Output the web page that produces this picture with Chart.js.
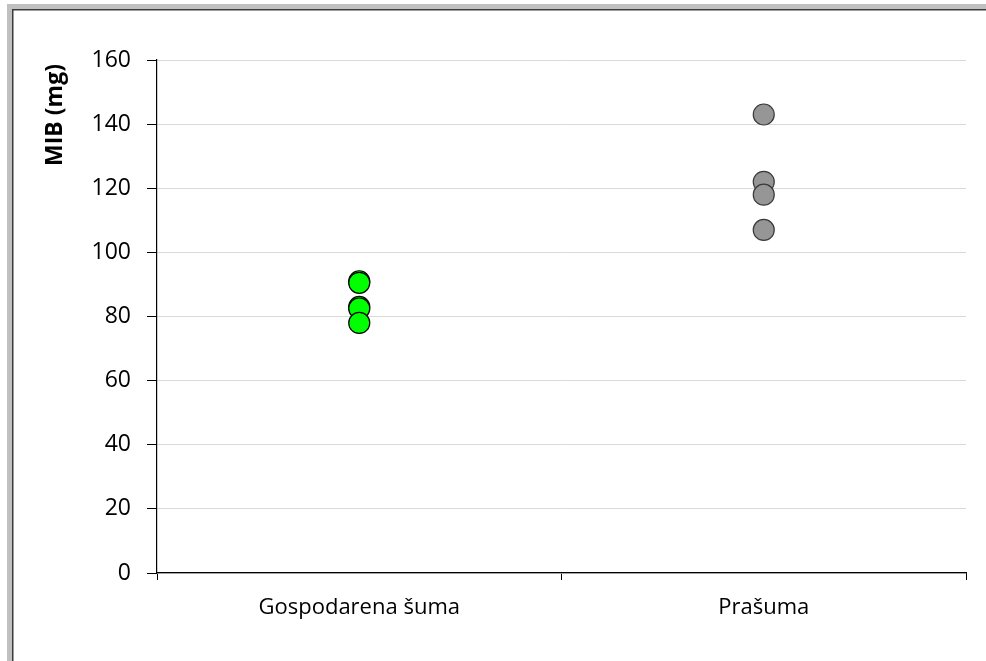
<!DOCTYPE html>
<html>
<head>
<meta charset="utf-8">
<script src="https://cdn.jsdelivr.net/npm/chart.js@4"></script>
<style>
  html, body { margin: 0; padding: 0; background: #fff; }
  #wrap { position: relative; width: 986px; height: 661px; }
</style>
</head>
<body>
<div id="wrap"><canvas id="chart" width="986" height="661"></canvas></div>
<script>
// categories and values
const categories = ["Gospodarena šuma", "Prašuma"];
const managedValues = [91, 90.5, 83, 82.5, 78];
const virginValues = [143, 122, 118, 107];
const yTicks = [0, 20, 40, 60, 80, 100, 120, 140, 160];
const yTitle = "MIB (mg)";

const FONT = "'Open Sans', Lato, sans-serif";

// window frame like the Excel screenshot
const framePlugin = {
    id: "frame",
    beforeDraw(chart) {
        const ctx = chart.ctx;
        ctx.save();
        ctx.fillStyle = "#c0c0c0";
        ctx.fillRect(7, 4, 986 - 7, 5);
        ctx.fillRect(7, 4, 5, 661 - 4);
        ctx.fillStyle = "#3c3c3c";
        ctx.fillRect(12, 9, 986 - 12, 1.5);
        ctx.fillRect(12, 9, 1.5, 661 - 9);
        ctx.restore();
    }
};

// y title sits near the top, as Excel placed it
const titlePlugin = {
    id: "ytitle",
    afterDraw(chart) {
        const ctx = chart.ctx;
        ctx.save();
        ctx.translate(55, 115);
        ctx.rotate(-Math.PI / 2);
        ctx.font = "bold 23px " + FONT;
        ctx.fillStyle = "#000";
        ctx.textAlign = "center";
        ctx.textBaseline = "middle";
        ctx.fillText(yTitle, 0, 0);
        ctx.restore();
    }
};

new Chart(document.getElementById("chart"), {
    type: "line",
    data: {
        labels: categories,
        datasets: [
            {
                data: managedValues.map((v) => ({ x: categories[0], y: v })),
                showLine: false,
                pointRadius: 10.5,
                pointBackgroundColor: "#00ff00",
                pointBorderColor: "#000000",
                pointBorderWidth: 1.2
            },
            {
                data: virginValues.map((v) => ({ x: categories[1], y: v })),
                showLine: false,
                pointRadius: 10.5,
                pointBackgroundColor: "#969696",
                pointBorderColor: "#3a3a3a",
                pointBorderWidth: 1.2
            }
        ]
    },
    options: {
        responsive: false,
        animation: false,
        layout: { padding: { left: 0, top: 60, right: 20, bottom: 0 } },
        plugins: {
            legend: { display: false },
            tooltip: { enabled: false }
        },
        scales: {
            x: {
                type: "category",
                offset: true,
                grid: {
                    offset: true,
                    drawOnChartArea: false,
                    drawTicks: true,
                    tickLength: 7,
                    color: "#000"
                },
                border: { color: "#000", width: 1.2 },
                ticks: {
                    padding: 15,
                    color: "#000",
                    font: { family: FONT, size: 22 }
                },
                afterFit(scale) { scale.height = 88; }
            },
            y: {
                min: 0,
                max: 160,
                afterBuildTicks(scale) { scale.ticks = yTicks.map((v) => ({ value: v })); },
                grid: {
                    color: "#d9d9d9",
                    drawTicks: true,
                    tickLength: 10,
                    tickColor: "#000"
                },
                border: { color: "#000", width: 1.2 },
                ticks: {
                    padding: 16,
                    color: "#000",
                    font: { family: FONT, size: 23 }
                },
                afterFit(scale) { scale.width = 157; }
            }
        }
    },
    plugins: [framePlugin, titlePlugin]
});
</script>
</body>
</html>
